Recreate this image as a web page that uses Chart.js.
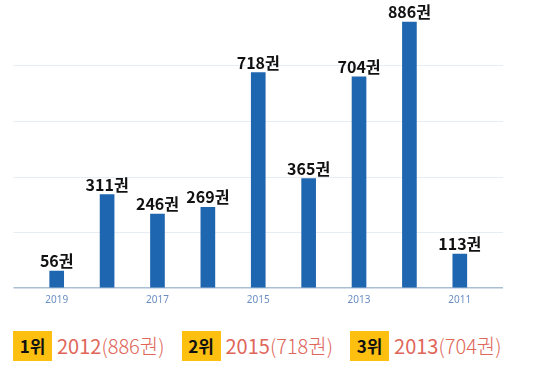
<!DOCTYPE html>
<html>
<head>
<meta charset="utf-8">
<script src="https://cdn.jsdelivr.net/npm/chart.js@4"></script>
<style>
  html, body { margin:0; padding:0; background:#fff; width:550px; height:370px; overflow:hidden; }
  #wrap { position:absolute; left:0; top:0; width:550px; height:316px; }
  #rank { position:absolute; left:13px; top:331px; height:30px; display:flex; align-items:center;
          font-family:"Noto Sans CJK KR","Noto Sans",sans-serif; white-space:nowrap; }
  .box { background:#fdc010; color:#111; font-weight:700; font-size:17px; height:30px; line-height:30px;
         width:39px; text-align:center; }
  .txt { color:#e0665a; font-size:20px; margin-left:5px; margin-right:17px; line-height:30px; }
  .txt .yr { font-weight:400; }
  .txt .val { font-weight:300; }
</style>
</head>
<body>
<div id="wrap"><canvas id="c" width="550" height="316"></canvas></div>
<div id="rank"></div>
<script>
const categories = ["2019","2018","2017","2016","2015","2014","2013","2012","2011"];
const values = [56, 311, 246, 269, 718, 365, 704, 886, 113];
const unit = "권";
const yTicks = [0, 185, 370, 555, 740, 925];
const rankLabels = ["1위", "2위", "3위"];
const rankYears = ["2012", "2015", "2013"];
const rankValues = [886, 718, 704];

// bottom ranking row
const rank = document.getElementById('rank');
rankLabels.forEach((r, i) => {
  const b = document.createElement('div'); b.className = 'box'; b.textContent = r;
  const t = document.createElement('div'); t.className = 'txt';
  t.innerHTML = '<span class="yr">' + rankYears[i] + '</span><span class="val">(' + rankValues[i] + unit + ')</span>';
  rank.appendChild(b); rank.appendChild(t);
});

const labelPlugin = {
  id: 'barLabels',
  afterDatasetsDraw(chart) {
    const ctx = chart.ctx;
    const meta = chart.getDatasetMeta(0);
    ctx.save();
    ctx.font = 'bold 16px "Noto Sans CJK KR", "Noto Sans", sans-serif';
    ctx.fillStyle = '#111';
    ctx.textAlign = 'center';
    ctx.textBaseline = 'alphabetic';
    meta.data.forEach((bar, i) => {
      ctx.fillText(values[i] + unit, bar.x, bar.y - 4);
    });
    ctx.restore();
  }
};

const yMax = yTicks[yTicks.length - 1];
const gridColor = (c) => c.tick.value === 0 ? '#a9bfd5' : (c.tick.value === yMax ? 'rgba(0,0,0,0)' : '#e6edf4');
const gridWidth = (c) => c.tick.value === 0 ? 1.5 : 1;

new Chart(document.getElementById('c'), {
  type: 'bar',
  data: {
    labels: categories,
    datasets: [{ data: values, backgroundColor: '#1f66b0', barThickness: 14 }]
  },
  options: {
    responsive: false,
    animation: false,
    layout: { padding: { left: 13.5, right: 47, top: 10.5, bottom: 4 } },
    plugins: { legend: { display: false }, tooltip: { enabled: false } },
    scales: {
      x: {
        grid: { display: false, drawTicks: false },
        border: { display: false },
        ticks: {
          autoSkip: false, maxRotation: 0, padding: 6, color: '#6a8ec2',
          font: { size: 10, family: '"Noto Sans", sans-serif' },
          callback: (v, i) => i % 2 === 0 ? categories[i] : ''
        }
      },
      y: {
        min: 0, max: yMax,
        afterBuildTicks: (s) => { s.ticks = yTicks.map(v => ({ value: v })); },
        ticks: { display: false },
        border: { display: false },
        grid: { color: gridColor, lineWidth: gridWidth, tickLength: 18, drawTicks: true }
      },
      y2: {
        position: 'right',
        min: 0, max: yMax,
        afterBuildTicks: (s) => { s.ticks = yTicks.map(v => ({ value: v })); },
        ticks: { display: false },
        border: { display: false },
        grid: { color: gridColor, lineWidth: gridWidth, tickLength: 18, drawTicks: true, drawOnChartArea: false }
      }
    }
  },
  plugins: [labelPlugin]
});
</script>
</body>
</html>
